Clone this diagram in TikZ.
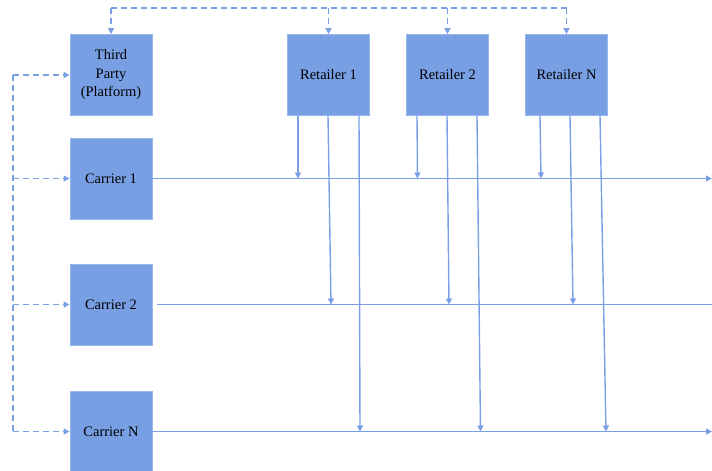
\documentclass[tikz,border=0pt]{standalone}
\usepackage{fontspec}
\setmainfont{Liberation Serif}
\usetikzlibrary{arrows.meta,calc}
\definecolor{boxblue}{RGB}{120,159,227}
\definecolor{boxedge}{RGB}{150,182,236}
\definecolor{linkblue}{RGB}{122,159,228}
\tikzset{
  x=1pt, y=-1pt,
  party/.style={rectangle, fill=boxblue, draw=boxedge, line width=0.8pt,
    minimum width=82pt, minimum height=81pt, inner sep=2pt, align=center,
    font=\fontsize{14.5}{18.5}\selectfont},
  flow/.style={draw=linkblue, line width=1.4pt},
  flowarrow/.style={flow, -{Triangle[length=6pt,width=6pt]}},
  ctrl/.style={draw=linkblue, line width=1.4pt, dash pattern=on 6pt off 4pt},
  ctrlarrow/.style={ctrl, -{Triangle[length=6pt,width=6pt]}},
}
\begin{document}
\begin{tikzpicture}
\useasboundingbox (0,0) rectangle (712,471);

% parties
\node[party] (tp) at (111,75)    {Third\\Party\\(Platform)};
\node[party] (r1) at (328.5,75)  {Retailer 1};
\node[party] (r2) at (447.5,75)  {Retailer 2};
\node[party] (rN) at (566.5,75)  {Retailer N};
\node[party] (c1) at (111,178.5) {Carrier 1};
\node[party] (c2) at (111,304.5) {Carrier 2};
\node[party] (cN) at (111,431.5) {Carrier N};

% control bus along the top
\coordinate (topbus) at (0,8);
\draw[ctrl] (tp.north |- topbus) -- (rN.north |- topbus);
\foreach \n in {tp,r1,r2,rN}
  \draw[ctrlarrow] (\n.north |- topbus) -- (\n.north);

% control bus along the left side
\coordinate (leftbus) at (13,0);
\draw[ctrl] (leftbus |- tp.west) -- (leftbus |- cN.west);
\foreach \n in {tp,c1,c2,cN}
  \draw[ctrlarrow] (leftbus |- \n.west) -- (\n.west);

% carrier lanes
\coordinate (rightedge) at (712,0);
\draw[flowarrow] (c1.east) -- (rightedge |- c1.east);
\draw[flow] ([xshift=5pt]c2.east) -- (rightedge |- c2.east);
\draw[flowarrow] (cN.east) -- (rightedge |- cN.east);

% retailer 1 feeds
\draw[flowarrow] ([xshift=-30.5pt]r1.south) -- ([xshift=-30.5pt]r1.south |- c1.east);
\draw[flowarrow] ([xshift=-0.5pt]r1.south) -- ([xshift=2.5pt]r1.south |- c2.east);
\draw[flowarrow] ([xshift=30.5pt]r1.south) -- ([xshift=31.5pt]r1.south |- cN.east);
% retailer 2 feeds
\draw[flowarrow] ([xshift=-30.5pt]r2.south) -- ([xshift=-30pt]r2.south |- c1.east);
\draw[flowarrow] ([xshift=-0.5pt]r2.south) -- ([xshift=1.5pt]r2.south |- c2.east);
\draw[flowarrow] ([xshift=29.5pt]r2.south) -- ([xshift=33pt]r2.south |- cN.east);
% retailer N feeds
\draw[flowarrow] ([xshift=-26.5pt]rN.south) -- ([xshift=-25.5pt]rN.south |- c1.east);
\draw[flowarrow] ([xshift=3.5pt]rN.south) -- ([xshift=6.5pt]rN.south |- c2.east);
\draw[flowarrow] ([xshift=33.5pt]rN.south) -- ([xshift=39.5pt]rN.south |- cN.east);
\end{tikzpicture}
\end{document}
